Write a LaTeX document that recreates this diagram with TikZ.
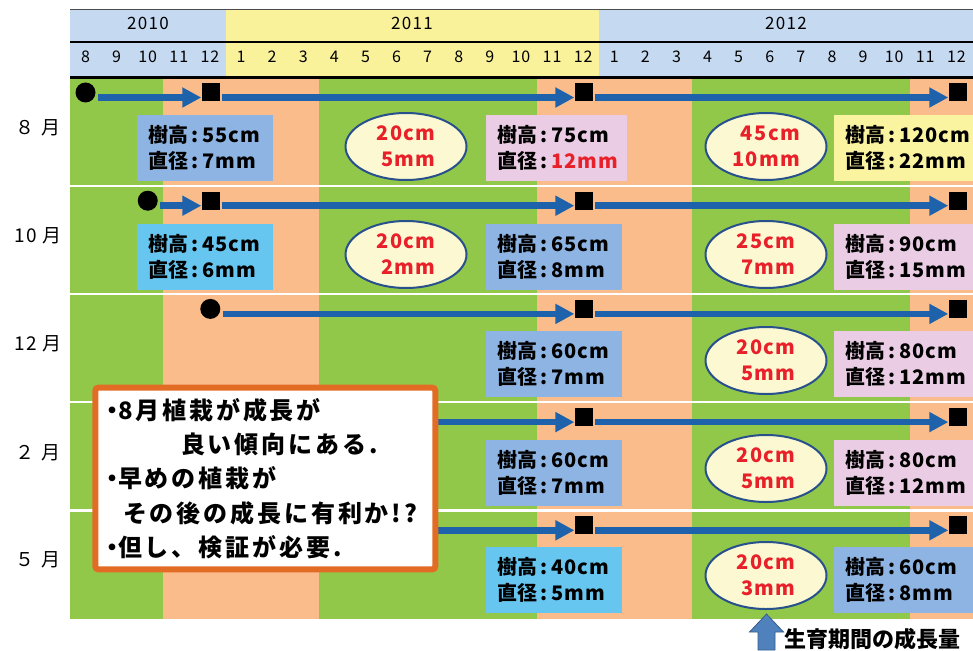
\documentclass[tikz,border=0pt]{standalone}
\usepackage{fontspec}
\setmainfont{Noto Sans CJK JP}
\usetikzlibrary{arrows.meta,shapes.geometric}
\definecolor{hblue}{RGB}{197,217,241}
\definecolor{hyellow}{RGB}{249,242,155}
\definecolor{bggreen}{RGB}{146,200,74}
\definecolor{bgorange}{RGB}{249,188,138}
\definecolor{flowblue}{RGB}{31,98,172}
\definecolor{boxblue}{RGB}{141,180,226}
\definecolor{boxcyan}{RGB}{102,198,240}
\definecolor{boxpink}{RGB}{234,205,228}
\definecolor{boxyellow}{RGB}{250,243,160}
\definecolor{ellfill}{RGB}{252,249,210}
\definecolor{ellline}{RGB}{40,80,140}
\definecolor{gainred}{RGB}{232,32,42}
\definecolor{calloutorange}{RGB}{227,108,36}
\definecolor{uparrow}{RGB}{79,129,189}
\definecolor{uparrowline}{RGB}{56,93,138}
\newcommand\infoline[2]{\mbox{#1\hspace*{3.5pt}:\hspace*{3.5pt}{\addfontfeatures{LetterSpace=5}#2}}}
\newcommand\blt{\makebox[12pt]{・}}
\begin{document}
\begin{tikzpicture}[x=1pt,y=-1pt,
  yearlbl/.style={font=\fontsize{17}{17}\selectfont\addfontfeatures{LetterSpace=8}, inner sep=0pt},
  monthlbl/.style={font=\fontsize{16}{16}\selectfont\addfontfeatures{LetterSpace=6}, inner sep=0pt},
  rowlbl/.style={font=\fontsize{19}{19}\selectfont, inner sep=0pt},
  startdot/.style={circle, fill=black, minimum size=20pt, inner sep=0pt},
  enddot/.style={rectangle, fill=black, minimum size=18pt, inner sep=0pt},
  flow/.style={draw=flowblue, line width=6.5pt, -{Triangle[length=19pt,width=19pt]}},
  infobox/.style={rectangle, inner xsep=11pt, inner ysep=0pt, text width=#1, minimum height=66pt,
    anchor=north west, align=left, font=\fontsize{20}{26}\selectfont\bfseries},
  gain/.style={ellipse, fill=ellfill, draw=ellline, line width=2pt, minimum width=121pt, minimum height=67pt,
    inner sep=0pt, align=right, text=gainred, font=\fontsize{20}{26}\selectfont\bfseries\addfontfeatures{LetterSpace=7}},
  callout/.style={rectangle, rounded corners=3pt, draw=calloutorange, fill=white, line width=6pt,
    minimum width=340pt, minimum height=181.7pt, inner xsep=10.7pt, text width=318.6pt, align=left,
    font=\fontsize{24}{34.4}\selectfont\bfseries\addfontfeatures{LetterSpace=12}}
]
\useasboundingbox (0,0) rectangle (973,650);
\fill[white] (0,0) rectangle (973,650);
% header
\fill[hblue] (70,9.5) rectangle (225.5,77);
\fill[hyellow] (225.5,9.5) rectangle (598.7,77);
\fill[hblue] (598.7,9.5) rectangle (973,77);
\draw[line width=1pt, black!70] (70,9.5) -- (973,9.5);
\draw[line width=2pt] (70,42.5) -- (973,42.5);
\draw[line width=2.5pt] (70,77.5) -- (973,77.5);
\node[yearlbl] (y2010) at (148,23) {2010};
\node[yearlbl] (y2011) at (412,23) {2011};
\node[yearlbl] (y2012) at (786,23) {2012};
\foreach \m [count=\i from 0] in {8,9,10,11,12,1,2,3,4,5,6,7,8,9,10,11,12,1,2,3,4,5,6,7,8,9,10,11,12}
  \node[monthlbl] (m\i) at ({70+(\i+0.5)*31.1},57) {\m};
% body background
\fill[bggreen] (70,78.8) rectangle (163.3,619);
\fill[bgorange] (163.3,78.8) rectangle (318.8,619);
\fill[bggreen] (318.8,78.8) rectangle (536.5,619);
\fill[bgorange] (536.5,78.8) rectangle (692,619);
\fill[bggreen] (692,78.8) rectangle (909.7,619);
\fill[bgorange] (909.7,78.8) rectangle (973,619);
\foreach \y in {185.8,294,402.2,510.4}
  \draw[white, line width=2.5pt] (70,\y) -- (973,\y);
% row labels
\node[rowlbl] (r1) at (38,128) {８\hspace{7pt}月};
\node[rowlbl] (r2) at (38,236) {1\hspace{2pt}0\hspace{5pt}月};
\node[rowlbl] (r3) at (38,344) {1\hspace{2pt}2\hspace{5pt}月};
\node[rowlbl] (r4) at (38,452.5) {２\hspace{7pt}月};
\node[rowlbl] (r5) at (38,560) {５\hspace{7pt}月};
% markers
\node[startdot] (c1) at (85.5,92.5) {};
\node[enddot] (s11) at (210.5,92.5) {};
\node[enddot] (s12) at (583.6,92.5) {};
\node[enddot] (s13) at (957.5,92.5) {};
\node[startdot] (c2) at (147.75,200.7) {};
\node[enddot] (s21) at (210.5,200.7) {};
\node[enddot] (s22) at (583.6,200.7) {};
\node[enddot] (s23) at (957.5,200.7) {};
\node[startdot] (c3) at (210.3,308.9) {};
\node[enddot] (s32) at (583.6,308.9) {};
\node[enddot] (s33) at (957.5,308.9) {};
\coordinate (p4) at (272,417.1);
\node[enddot] (s42) at (583.6,417.1) {};
\node[enddot] (s43) at (957.5,417.1) {};
\coordinate (p5) at (365.5,525.3);
\node[enddot] (s52) at (583.6,525.3) {};
\node[enddot] (s53) at (957.5,525.3) {};
% flows
\draw[flow] ([shift={(2.5,5)}]c1.east) -- ([shift={(0,5)}]s11.west);
\draw[flow] ([shift={(2.5,5)}]s11.east) -- ([shift={(0,5)}]s12.west);
\draw[flow] ([shift={(2.5,5)}]s12.east) -- ([shift={(0,5)}]s13.west);
\draw[flow] ([shift={(2.5,5)}]c2.east) -- ([shift={(0,5)}]s21.west);
\draw[flow] ([shift={(2.5,5)}]s21.east) -- ([shift={(0,5)}]s22.west);
\draw[flow] ([shift={(2.5,5)}]s22.east) -- ([shift={(0,5)}]s23.west);
\draw[flow] ([shift={(2.5,5)}]c3.east) -- ([shift={(0,5)}]s32.west);
\draw[flow] ([shift={(2.5,5)}]s32.east) -- ([shift={(0,5)}]s33.west);
\draw[flow] ([shift={(0,5)}]p4) -- ([shift={(0,5)}]s42.west);
\draw[flow] ([shift={(2.5,5)}]s42.east) -- ([shift={(0,5)}]s43.west);
\draw[flow] ([shift={(0,5)}]p5) -- ([shift={(0,5)}]s52.west);
\draw[flow] ([shift={(2.5,5)}]s52.east) -- ([shift={(0,5)}]s53.west);
% row 1
\node[infobox=114pt, fill=boxblue] (b11) at (137,115) {\infoline{樹高}{55cm}\\\infoline{直径}{7mm}};
\node[gain] (e11) at (406,146.5) {20cm\\5mm};
\node[infobox=119pt, fill=boxpink] (b12) at (486,115) {\infoline{樹高}{75cm}\\\infoline{直径}{\textcolor{gainred}{12mm}}};
\node[gain] (e12) at (766,146.5) {45cm\\10mm};
\node[infobox=117pt, fill=boxyellow] (b13) at (834,115) {\infoline{樹高}{120cm}\\\infoline{直径}{22mm}};
% row 2
\node[infobox=114pt, fill=boxcyan] (b21) at (137,224) {\infoline{樹高}{45cm}\\\infoline{直径}{6mm}};
\node[gain] (e21) at (406,254.5) {20cm\\2mm};
\node[infobox=114pt, fill=boxblue] (b22) at (486,224) {\infoline{樹高}{65cm}\\\infoline{直径}{8mm}};
\node[gain] (e22) at (766,254.5) {25cm\\7mm};
\node[infobox=117pt, fill=boxpink] (b23) at (834,224) {\infoline{樹高}{90cm}\\\infoline{直径}{15mm}};
% row 3
\node[infobox=114pt, fill=boxblue] (b32) at (486,331) {\infoline{樹高}{60cm}\\\infoline{直径}{7mm}};
\node[gain] (e32) at (766,360.5) {20cm\\5mm};
\node[infobox=117pt, fill=boxpink] (b33) at (834,331) {\infoline{樹高}{80cm}\\\infoline{直径}{12mm}};
% row 4
\node[infobox=114pt, fill=boxblue] (b42) at (486,440) {\infoline{樹高}{60cm}\\\infoline{直径}{7mm}};
\node[gain] (e42) at (766,468.5) {20cm\\5mm};
\node[infobox=117pt, fill=boxpink] (b43) at (834,440) {\infoline{樹高}{80cm}\\\infoline{直径}{12mm}};
% row 5
\node[infobox=114pt, fill=boxcyan] (b52) at (486,547) {\infoline{樹高}{40cm}\\\infoline{直径}{5mm}};
\node[gain] (e52) at (766,575.5) {20cm\\3mm};
\node[infobox=117pt, fill=boxblue] (b53) at (834,547) {\infoline{樹高}{60cm}\\\infoline{直径}{8mm}};
% callout
\node[callout] (note) at (265.3,478.5) {\blt 8月植栽が成長が\\
\hspace*{75pt}良い傾向にある.\\
\blt 早めの植栽が\\
\hspace*{17pt}その後の成長に有利か!?\\
\blt 但し、検証が必要.};
% bottom arrow and caption
\fill[uparrow, draw=uparrowline, line width=0.8pt] (766.5,614) -- (783.5,632) -- (775,632) -- (775,650) -- (758,650) -- (758,632) -- (749.5,632) -- cycle;
\node[anchor=west, inner sep=0pt, font=\fontsize{22}{22}\selectfont\bfseries] (cap) at (784,639) {生育期間の成長量};
\end{tikzpicture}
\end{document}
